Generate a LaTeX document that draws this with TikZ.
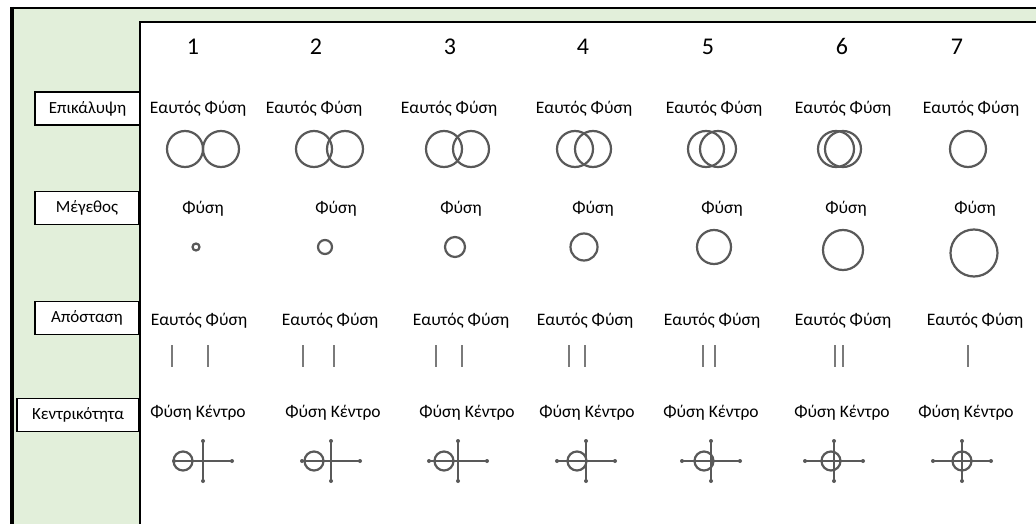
\documentclass[tikz,border=0pt]{standalone}
\usepackage{fontspec}
\setmainfont{Carlito}
\definecolor{bggreen}{HTML}{E2EFDA}
\definecolor{shapegray}{HTML}{595959}
\definecolor{linegray}{HTML}{7A7A7A}
\begin{document}
\begin{tikzpicture}[x=1pt,y=-1pt,
  txt/.style={inner sep=0pt,anchor=base,font=\fontsize{17.5}{20}\selectfont},
  numtxt/.style={inner sep=0pt,anchor=base,font=\fontsize{24}{26}\selectfont},
  lbl/.style={draw=black,line width=1.2pt,fill=white,inner sep=0pt,minimum height=33pt,font=\fontsize{17}{19}\selectfont},
  ring/.style={draw=shapegray,line width=2.2pt},
  bar/.style={draw=linegray,line width=2.6pt},
  crossln/.style={draw=shapegray,line width=1.3pt},
  enddot/.style={fill=shapegray}]
\useasboundingbox (0,0) rectangle (1036,524);
% background
\fill[white] (0,0) rectangle (1036,524);
\fill[bggreen] (12,8) rectangle (1036,524);
\fill[white] (140,22) rectangle (1036,524);
\draw[black,line width=1.2pt] (140,524) -- (140,22) -- (1036,22);
\draw[black,line width=2pt] (10,8) -- (1036,8);
\draw[black,line width=4pt] (12,7) -- (12,524);
% row labels
\node[lbl,minimum width=105pt] (l1) at (87.5,108.5) {Επικάλυψη};
\node[lbl,minimum width=104pt] (l2) at (87,208) {Μέγεθος};
\node[lbl,minimum width=104pt] (l3) at (87,318) {Απόσταση};
\node[lbl,minimum width=122pt] (l4) at (78,415) {Κεντρικότητα};
% column numbers
\foreach \n/\x in {1/193,2/316,3/450,4/583,5/708,6/842,7/957}
  \node[numtxt] (n\n) at (\x,55) {\n};
% row 1 : overlap
\foreach \n/\x in {1/198,2/314,3/449,4/584,5/714,6/843,7/971}
  \node[txt] (a\n) at (\x,114) {Εαυτός Φύση};
\foreach \xa/\xb in {185/221,314/345,444/471,575/593,706/718,836/843}{
  \draw[ring] (\xa,149) circle[radius=18];
  \draw[ring] (\xb,149) circle[radius=18];
}
\draw[ring] (968,149) circle[radius=18];
% row 2 : size
\foreach \n/\x in {1/203,2/336,3/461,4/593,5/722,6/846,7/975}
  \node[txt] (b\n) at (\x,213) {Φύση};
\foreach \x/\y/\r in {196/247/3.5,325/247/7,455/247/10,584/247/13.5,714/247/17,843/250/20,974/253/23.5}
  \draw[ring] (\x,\y) circle[radius=\r];
% row 3 : distance
\foreach \n/\x in {1/199,2/330,3/461,4/585,5/712,6/843,7/975}
  \node[txt] (c\n) at (\x,325) {Εαυτός Φύση};
\foreach \xa/\xb in {172/208,303/334,436/462,569/585,703/715,835/843}{
  \draw[bar] (\xa,345) -- (\xa,367);
  \draw[bar] (\xb,345) -- (\xb,367);
}
\draw[bar] (968,345) -- (968,367);
% row 4 : centrality
\foreach \n/\x in {1/198,2/333,3/467,4/587,5/711,6/842,7/966}
  \node[txt] (d\n) at (\x,417) {Φύση Κέντρο};
\foreach \cx/\off in {203/-20,331/-17,458/-14,586/-9,711/-7,834/-3,962/0}{
  \draw[crossln] (\cx-29,461) -- (\cx+29,461);
  \draw[crossln] (\cx,441) -- (\cx,481);
  \fill[enddot] (\cx-29,461) circle[radius=2];
  \fill[enddot] (\cx+29,461) circle[radius=2];
  \fill[enddot] (\cx,441) circle[radius=2];
  \fill[enddot] (\cx,481) circle[radius=2];
  \draw[ring] (\cx+\off,461) circle[radius=9.5];
}
\end{tikzpicture}
\end{document}
